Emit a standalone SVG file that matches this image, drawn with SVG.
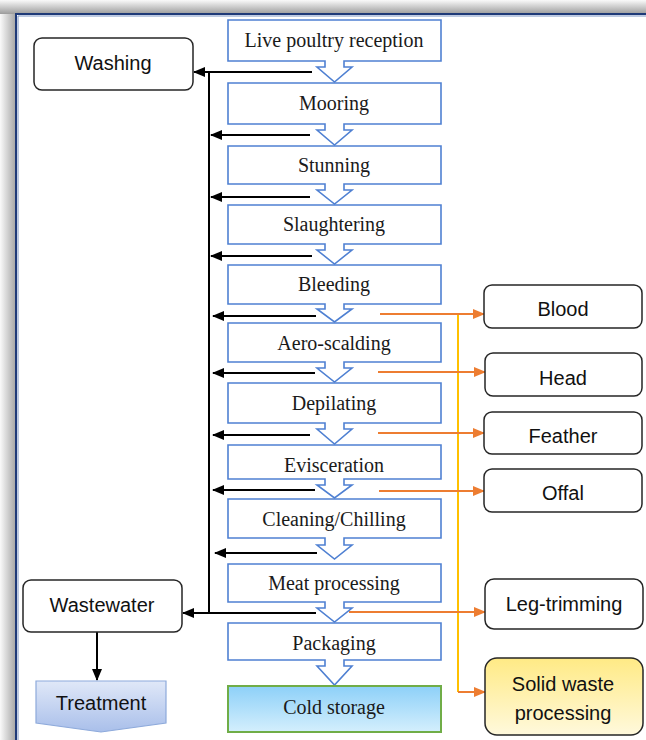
<svg xmlns="http://www.w3.org/2000/svg" width="646" height="740" viewBox="0 0 646 740">
<defs>
<style>
.proc{fill:#fff;stroke:#4f80d2;stroke-width:1.6}
.pt{font-family:"Liberation Serif","Times New Roman",serif;font-size:20px;fill:#1a1a1a;text-anchor:middle}
.sb{fill:#fff;stroke:#262626;stroke-width:1.5}
.st{font-family:"Liberation Sans",Arial,sans-serif;font-size:20px;fill:#111;text-anchor:middle}
.blk{stroke:#000;stroke-width:2;fill:none}
.org{stroke:#ed7d31;stroke-width:2;fill:none}
</style>
<marker id="ab" markerUnits="userSpaceOnUse" markerWidth="12" markerHeight="10" refX="11" refY="5" orient="auto"><path d="M0,0 L12,5 L0,10 z" fill="#000"/></marker>
<marker id="ao" markerUnits="userSpaceOnUse" markerWidth="12" markerHeight="10" refX="11" refY="5" orient="auto"><path d="M0,0 L12,5 L0,10 z" fill="#ed7d31"/></marker>
<linearGradient id="gTop" x1="0" y1="0" x2="0" y2="1"><stop offset="0" stop-color="#fafafa"/><stop offset="1" stop-color="#9c9c9c"/></linearGradient>
<linearGradient id="gLeft" x1="0" y1="0" x2="1" y2="0"><stop offset="0" stop-color="#fafafa"/><stop offset="1" stop-color="#a4a4a4"/></linearGradient>
<linearGradient id="gCold" x1="0" y1="0" x2="0" y2="1"><stop offset="0" stop-color="#8dd0f8"/><stop offset="1" stop-color="#d4effd"/></linearGradient>
<linearGradient id="gTreat" x1="0" y1="0" x2="0" y2="1"><stop offset="0" stop-color="#e0e8f8"/><stop offset="1" stop-color="#a9bfea"/></linearGradient>
<linearGradient id="gSolid" x1="0" y1="0" x2="0" y2="1"><stop offset="0" stop-color="#ffea85"/><stop offset="1" stop-color="#fff9dc"/></linearGradient>
</defs>
<rect width="646" height="740" fill="#fff"/>
<g id="frame">
<rect x="0" y="0" width="646" height="14" fill="url(#gTop)"/>
<rect x="0" y="14" width="16" height="726" fill="url(#gLeft)"/>
<path d="M16,740 V14 H646" fill="none" stroke="#1f3a78" stroke-width="2"/>
<path d="M18,740 V16 H646" fill="none" stroke="#7c95c4" stroke-width="1"/>
</g>
<g id="connectors">
<path class="blk" d="M209,72 V613"/>
<path class="blk" d="M312,72 H194" marker-end="url(#ab)"/>
<path class="blk" d="M310,135 H211" marker-end="url(#ab)"/>
<path class="blk" d="M310,197 H211" marker-end="url(#ab)"/>
<path class="blk" d="M312,256 H211" marker-end="url(#ab)"/>
<path class="blk" d="M316,316 H213" marker-end="url(#ab)"/>
<path class="blk" d="M315,373 H213" marker-end="url(#ab)"/>
<path class="blk" d="M310,435 H213" marker-end="url(#ab)"/>
<path class="blk" d="M315,490 H213" marker-end="url(#ab)"/>
<path class="blk" d="M317,553 H215" marker-end="url(#ab)"/>
<path class="blk" d="M316,613 H183" marker-end="url(#ab)"/>
<path class="blk" d="M97,632 V680" marker-end="url(#ab)"/>
<path d="M458,314 V692" fill="none" stroke="#ffc000" stroke-width="2"/>
<path class="org" d="M380,314 H484" marker-end="url(#ao)"/>
<path class="org" d="M378,372 H485" marker-end="url(#ao)"/>
<path class="org" d="M378,433 H484" marker-end="url(#ao)"/>
<path class="org" d="M379,491 H484" marker-end="url(#ao)"/>
<path class="org" d="M349,612 H485" marker-end="url(#ao)"/>
<path class="org" d="M458,692 H485" marker-end="url(#ao)"/>
</g>
<g id="live-poultry-reception"><path class="proc" d="M228,20 H441 V61 H344 V67 H352 L334.5,82 L317,67 H325 V61 H228 Z"/><text class="pt" x="334" y="47">Live poultry reception</text></g>
<g id="mooring"><path class="proc" d="M228,83 H441 V124 H344 V130 H352 L334.5,145 L317,130 H325 V124 H228 Z"/><text class="pt" x="334" y="110">Mooring</text></g>
<g id="stunning"><path class="proc" d="M228,146 H441 V184 H344 V190 H352 L334.5,204 L317,190 H325 V184 H228 Z"/><text class="pt" x="334" y="172">Stunning</text></g>
<g id="slaughtering"><path class="proc" d="M228,205 H441 V244 H344 V250 H352 L334.5,264 L317,250 H325 V244 H228 Z"/><text class="pt" x="334" y="231">Slaughtering</text></g>
<g id="bleeding"><path class="proc" d="M228,265 H441 V304 H344 V309 H352 L334.5,322 L317,309 H325 V304 H228 Z"/><text class="pt" x="334" y="291">Bleeding</text></g>
<g id="aero-scalding"><path class="proc" d="M228,323 H441 V362 H344 V368 H352 L334.5,382 L317,368 H325 V362 H228 Z"/><text class="pt" x="334" y="350">Aero-scalding</text></g>
<g id="depilating"><path class="proc" d="M228,383 H441 V423 H344 V429 H352 L334.5,444 L317,429 H325 V423 H228 Z"/><text class="pt" x="334" y="410">Depilating</text></g>
<g id="evisceration"><path class="proc" d="M228,445 H441 V479 H344 V485 H352 L334.5,498 L317,485 H325 V479 H228 Z"/><text class="pt" x="334" y="472">Evisceration</text></g>
<g id="cleaning-chilling"><path class="proc" d="M228,499 H441 V538 H344 V545 H352 L334.5,559 L317,545 H325 V538 H228 Z"/><text class="pt" x="334" y="526">Cleaning/Chilling</text></g>
<g id="meat-processing"><path class="proc" d="M228,564 H441 V602 H344 V608 H352 L334.5,622 L317,608 H325 V602 H228 Z"/><text class="pt" x="334" y="590">Meat processing</text></g>
<g id="packaging"><path class="proc" d="M228,623 H441 V660 H344 V666 H352 L334.5,685 L317,666 H325 V660 H228 Z"/><text class="pt" x="334" y="650">Packaging</text></g>
<g id="cold-storage"><rect x="228" y="686" width="213" height="46" fill="url(#gCold)" stroke="#70ad47" stroke-width="2"/><text class="pt" x="334" y="714">Cold storage</text></g>
<g id="washing"><rect class="sb" x="34" y="38" width="159" height="52" rx="8"/><text class="st" x="113" y="70">Washing</text></g>
<g id="wastewater"><rect class="sb" x="23" y="580" width="159" height="52" rx="8"/><text class="st" x="102" y="612">Wastewater</text></g>
<g id="treatment"><path d="M36,681 H166 V723 L101,732 L36,723 Z" fill="url(#gTreat)" stroke="#8eaadb" stroke-width="1.2"/><text class="st" x="101" y="710">Treatment</text></g>
<g id="blood"><rect class="sb" x="484" y="285" width="158" height="43" rx="8"/><text class="st" x="563" y="316">Blood</text></g>
<g id="head"><rect class="sb" x="485" y="353" width="157" height="43" rx="8"/><text class="st" x="563" y="385">Head</text></g>
<g id="feather"><rect class="sb" x="484" y="412" width="158" height="42" rx="8"/><text class="st" x="563" y="443">Feather</text></g>
<g id="offal"><rect class="sb" x="484" y="469" width="158" height="43" rx="8"/><text class="st" x="563" y="500">Offal</text></g>
<g id="leg-trimming"><rect class="sb" x="485" y="579" width="158" height="50" rx="9"/><text class="st" x="564" y="611">Leg-trimming</text></g>
<g id="solid-waste-processing"><rect x="485" y="658" width="158" height="77" rx="12" fill="url(#gSolid)" stroke="#262626" stroke-width="1.5"/><text class="st" x="563" y="691">Solid waste</text><text class="st" x="563" y="720">processing</text></g>
</svg>
